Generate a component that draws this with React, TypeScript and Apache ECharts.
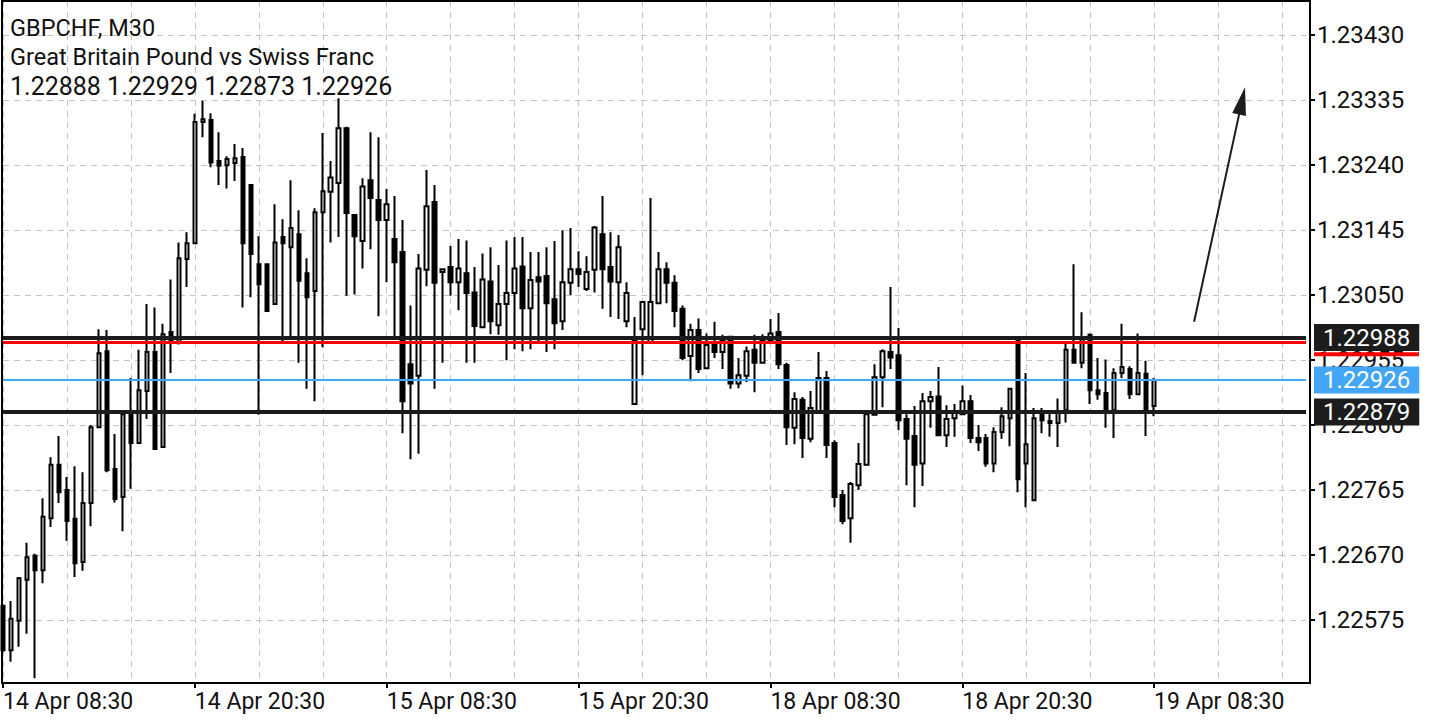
import { useRef, useEffect } from "react";
import * as echarts from "echarts";

// 30-minute bars, GBPCHF M30; Thursday/Friday session then Monday/Tuesday session
const sessionStarts = [Date.UTC(2022, 3, 14, 8, 30), Date.UTC(2022, 3, 18, 0, 0)];
const sessionBars = [79, 66];
const emptySlots = 19; // blank space right of the last bar

const opens = [
  1.22596, 1.22531, 1.22574, 1.22634, 1.22669, 1.22648, 1.22724, 1.22802, 1.22765, 1.22723,
  1.2266, 1.22746, 1.22857, 1.22968, 1.22796, 1.22755, 1.22876, 1.22834, 1.2291, 1.22967,
  1.22828, 1.22996, 1.22981, 1.23103, 1.23126, 1.23303, 1.23306, 1.23246, 1.2324, 1.23243,
  1.23252, 1.23211, 1.23095, 1.23095, 1.23037, 1.23135, 1.2312, 1.23139, 1.23082, 1.23056,
  1.23171, 1.23201, 1.23214, 1.23294, 1.23167, 1.23129, 1.23218, 1.23189, 1.2316, 1.23132,
  1.23113, 1.22949, 1.22932, 1.23087, 1.23186, 1.23084, 1.23091, 1.23069, 1.23082, 1.23054,
  1.23003, 1.2307, 1.23006, 1.23037, 1.23053, 1.23092, 1.23031, 1.23076, 1.23078, 1.23044,
  1.23012, 1.23068, 1.23088, 1.23059, 1.23087, 1.23139, 1.23091, 1.23069, 1.23012, 1.22891,
  1.23, 1.2298, 1.23038, 1.23088, 1.23068, 1.2303, 1.22961, 1.22999, 1.22943, 1.22977,
  1.22967, 1.22989, 1.22921, 1.22932, 1.2297, 1.22951, 1.22984, 1.22996, 1.22948, 1.22856,
  1.22897, 1.2284, 1.22879, 1.22929, 1.22834, 1.22758, 1.22724, 1.22772, 1.22802, 1.22875,
  1.2293, 1.22967, 1.22962, 1.22869, 1.22844, 1.22804, 1.22895, 1.22902, 1.22845, 1.2287,
  1.22876, 1.22895, 1.22841, 1.22841, 1.22804, 1.2285, 1.2287, 1.22984, 1.22804, 1.2275,
  1.22876, 1.22866, 1.22863, 1.22882, 1.2297, 1.22951, 1.22992, 1.22911, 1.22907, 1.22882,
  1.22936, 1.22942, 1.22905, 1.22935, 1.22888,
];
const closes = [
  1.22531, 1.22577, 1.22636, 1.22667, 1.22648, 1.22726, 1.22802, 1.22762, 1.2272, 1.22658,
  1.22746, 1.22857, 1.22965, 1.22794, 1.22752, 1.22876, 1.22834, 1.22911, 1.22967, 1.22825,
  1.22993, 1.2298, 1.23104, 1.23126, 1.23303, 1.23307, 1.23244, 1.23239, 1.23249, 1.2325,
  1.23126, 1.2311, 1.23066, 1.23027, 1.23127, 1.23126, 1.23148, 1.23071, 1.23047, 1.23171,
  1.23202, 1.23222, 1.23294, 1.2317, 1.23136, 1.23209, 1.23192, 1.2316, 1.23183, 1.23098,
  1.22895, 1.22921, 1.23089, 1.2318, 1.23068, 1.23088, 1.23069, 1.23089, 1.23053, 1.23005,
  1.23073, 1.23012, 1.23037, 1.23053, 1.23089, 1.23031, 1.23072, 1.2307, 1.23038, 1.23009,
  1.23069, 1.23088, 1.23081, 1.23084, 1.23149, 1.23088, 1.2307, 1.2312, 1.23053, 1.22984,
  1.2304, 1.2304, 1.23088, 1.23068, 1.23027, 1.22958, 1.22999, 1.22942, 1.22977, 1.22967,
  1.22984, 1.22921, 1.22933, 1.22968, 1.22951, 1.22984, 1.22994, 1.22949, 1.22857, 1.22898,
  1.22841, 1.22885, 1.22929, 1.22831, 1.22755, 1.2272, 1.22774, 1.22803, 1.22876, 1.2293,
  1.22968, 1.22959, 1.22867, 1.2284, 1.22802, 1.22895, 1.22901, 1.22845, 1.22869, 1.22878,
  1.22895, 1.22841, 1.22835, 1.22804, 1.2285, 1.22873, 1.22913, 1.22781, 1.22832, 1.2287,
  1.22867, 1.22863, 1.22878, 1.2297, 1.22951, 1.22986, 1.22911, 1.22905, 1.22883, 1.22936,
  1.22945, 1.22905, 1.22936, 1.22883, 1.22926,
];
const highs = [
  1.22598, 1.22603, 1.22638, 1.22688, 1.22672, 1.22753, 1.22813, 1.22844, 1.22784, 1.228,
  1.22791, 1.2286, 1.23, 1.22999, 1.22847, 1.22877, 1.22929, 1.2297, 1.23037, 1.23032,
  1.23008, 1.23073, 1.23127, 1.23142, 1.23315, 1.23334, 1.23316, 1.23288, 1.23253, 1.23271,
  1.23265, 1.23212, 1.23136, 1.23096, 1.23183, 1.23161, 1.23218, 1.23174, 1.23104, 1.23177,
  1.23287, 1.23246, 1.23338, 1.23296, 1.23168, 1.23221, 1.23288, 1.23281, 1.23205, 1.23195,
  1.2316, 1.23035, 1.2311, 1.23233, 1.23211, 1.23089, 1.23122, 1.23132, 1.2313, 1.23091,
  1.23111, 1.2312, 1.23094, 1.2313, 1.23135, 1.23135, 1.23113, 1.23113, 1.2312, 1.23129,
  1.23145, 1.23148, 1.23114, 1.23107, 1.23151, 1.23195, 1.23142, 1.23138, 1.23069, 1.23018,
  1.23041, 1.23192, 1.23113, 1.23098, 1.23079, 1.23035, 1.23008, 1.23016, 1.22994, 1.23011,
  1.22992, 1.2299, 1.22958, 1.22975, 1.22992, 1.22993, 1.23015, 1.23024, 1.22951, 1.22908,
  1.22901, 1.2291, 1.22967, 1.22939, 1.22838, 1.22765, 1.22777, 1.22834, 1.22877, 1.22949,
  1.22971, 1.23062, 1.23002, 1.22876, 1.22888, 1.22907, 1.2291, 1.22945, 1.22889, 1.22891,
  1.22918, 1.22904, 1.2286, 1.22847, 1.22857, 1.22886, 1.22914, 1.22985, 1.22936, 1.22885,
  1.22885, 1.22878, 1.22899, 1.22983, 1.23095, 1.23025, 1.22994, 1.22958, 1.22956, 1.22943,
  1.23008, 1.22946, 1.22994, 1.22954, 1.22929,
];
const lows = [
  1.22528, 1.22514, 1.22536, 1.22555, 1.2249, 1.22629, 1.22711, 1.22746, 1.22691, 1.22638,
  1.22647, 1.22712, 1.22856, 1.22791, 1.22747, 1.22705, 1.22767, 1.22833, 1.22869, 1.22824,
  1.22827, 1.22936, 1.22978, 1.23062, 1.23125, 1.23281, 1.23237, 1.23211, 1.23206, 1.23217,
  1.23032, 1.23047, 1.22875, 1.23026, 1.23036, 1.2298, 1.22989, 1.22951, 1.22913, 1.22895,
  1.22974, 1.23127, 1.23135, 1.23049, 1.23051, 1.23089, 1.23117, 1.23019, 1.23069, 1.22989,
  1.22848, 1.2281, 1.22818, 1.23063, 1.22913, 1.22951, 1.23049, 1.23028, 1.22951, 1.22951,
  1.23002, 1.22993, 1.22992, 1.22955, 1.22971, 1.22968, 1.22971, 1.22983, 1.22967, 1.22971,
  1.22999, 1.2305, 1.23062, 1.23056, 1.23054, 1.2303, 1.23018, 1.23015, 1.23003, 1.2289,
  1.22933, 1.22979, 1.23037, 1.23038, 1.23003, 1.22955, 1.22924, 1.22936, 1.22942, 1.22958,
  1.22942, 1.22913, 1.22914, 1.22923, 1.22908, 1.2295, 1.2298, 1.22942, 1.22831, 1.22832,
  1.22812, 1.22835, 1.22878, 1.22812, 1.2274, 1.22715, 1.22688, 1.22765, 1.22801, 1.22874,
  1.22886, 1.22942, 1.22853, 1.22772, 1.2274, 1.22771, 1.22856, 1.22844, 1.22828, 1.22843,
  1.22875, 1.22834, 1.22822, 1.22799, 1.22791, 1.2284, 1.22829, 1.22762, 1.2274, 1.22749,
  1.22848, 1.22843, 1.22828, 1.22864, 1.2295, 1.22943, 1.22891, 1.22897, 1.22856, 1.22841,
  1.22929, 1.22898, 1.22904, 1.22844, 1.22873,
];

const yTicks = [1.22575, 1.2267, 1.22765, 1.2286, 1.22955, 1.2305, 1.23145, 1.2324, 1.23335, 1.2343];

// horizontal levels drawn on the chart
const levelHigh = 1.22988;
const levelLow = 1.22879;
const askPrice = 1.22981;
const bidPrice = 1.22926;

// trend arrow (bar index, price)
const arrowFrom = [149, 1.23011];
const arrowTo = [155, 1.23334];

const headerName = "GBPCHF, M30";
const headerDesc = "Great Britain Pound vs Swiss Franc";
const headerOhlc = "1.22888 1.22929 1.22873 1.22926";

const pad2 = (n: number) => String(n).padStart(2, "0");
const fmtTime = (t: number) => {
  const d = new Date(t);
  return `${d.getUTCDate()} Apr ${pad2(d.getUTCHours())}:${pad2(d.getUTCMinutes())}`;
};

const categories: string[] = [];
sessionStarts.forEach((start, s) => {
  for (let i = 0; i < sessionBars[s]; i++) categories.push(fmtTime(start + i * 30 * 60000));
});
for (let i = 0; i < emptySlots; i++) categories.push("");

const candles = opens.map((o, i) => [o, closes[i], lows[i], highs[i]]);

const FONT = "Roboto";

const boxLabel = (bg: string) => ({
  show: true,
  position: "end",
  distance: 8,
  formatter: (p: any) => Number(p.value).toFixed(5),
  color: "#fff",
  backgroundColor: bg,
  fontSize: 24,
  lineHeight: 23,
  fontFamily: FONT,
  padding: [3, 9, 1, 9],
});

const App = () => {
  const chartRef = useRef<HTMLDivElement>(null);

  useEffect(() => {
    const myChart = echarts.init(chartRef.current, null, { renderer: "svg" });

    const option = {
      animation: false,
      backgroundColor: "#fff",
      textStyle: { fontFamily: FONT },
      title: {
        text: `{a|${headerName}}\n{a|${headerDesc}}\n{b|${headerOhlc}}`,
        left: 10,
        top: 14,
        padding: 0,
        textStyle: {
          fontWeight: "normal",
          rich: {
            a: { fontSize: 23.5, lineHeight: 28.5, color: "#111", fontWeight: "normal", fontFamily: FONT },
            b: { fontSize: 25, lineHeight: 30, color: "#111", fontWeight: "normal", fontFamily: FONT },
          },
        },
      },
      grid: { left: 2, top: 1, width: 1304, height: 682 },
      xAxis: {
        type: "category",
        data: categories,
        boundaryGap: false,
        axisLine: { show: false },
        axisTick: {
          show: true,
          interval: (i: number) => i % 24 === 0 && i <= 144,
          length: 5,
          lineStyle: { color: "#000", width: 2 },
        },
        axisLabel: {
          interval: (i: number) => i % 24 === 0 && i <= 144,
          align: "left",
          margin: 7,
          fontSize: 23,
          color: "#111",
          fontFamily: FONT,
        },
        splitLine: {
          show: true,
          interval: (i: number) => i % 8 === 0,
          lineStyle: { color: "#c4c4c4", type: [6, 5], width: 1 },
        },
      },
      yAxis: {
        type: "value",
        position: "right",
        offset: 4,
        min: 1.22483,
        max: 1.2348,
        axisLine: { show: false },
        axisTick: {
          show: true,
          customValues: yTicks,
          length: 5,
          lineStyle: { color: "#000", width: 2 },
        },
        axisLabel: {
          customValues: yTicks,
          margin: 7,
          fontSize: 24,
          color: "#111",
          fontFamily: FONT,
          formatter: (v: number) => v.toFixed(5),
        },
        splitLine: {
          show: true,
          lineStyle: { color: "#c4c4c4", type: [6, 5], width: 1 },
        },
      },
      graphic: [
        {
          type: "rect",
          z: 100,
          silent: true,
          shape: { x: 2, y: 1, width: 1308, height: 682 },
          style: { fill: "none", stroke: "#000", lineWidth: 2 },
        },
      ],
      series: [
        {
          type: "candlestick",
          data: candles,
          barWidth: 4,
          clip: false,
          z: 2,
          itemStyle: {
            color: "#ffffff",
            color0: "#000000",
            borderColor: "#000000",
            borderColor0: "#000000",
            borderWidth: 2,
          },
        },
        {
          type: "line",
          data: [],
          z: 3,
          markLine: {
            silent: true,
            precision: 5,
            symbol: ["none", "none"],
            animation: false,
            lineStyle: { color: "#1c1c1c", width: 2, type: "solid" },
            data: [
              {
                yAxis: askPrice,
                lineStyle: { color: "#ff0000", width: 3, type: "solid" },
                label: {
                  show: true,
                  position: "end",
                  distance: 8,
                  formatter: () => "{g| }\n{b| }",
                  rich: {
                    g: { height: 24, lineHeight: 24, fontSize: 4 },
                    b: { height: 4, lineHeight: 4, width: 105, fontSize: 4, backgroundColor: "#ff0000" },
                  },
                },
              },
              {
                yAxis: bidPrice,
                lineStyle: { color: "#42a5f5", width: 2, type: "solid" },
                label: boxLabel("#42a5f5"),
              },
              {
                yAxis: levelHigh,
                lineStyle: { color: "#1c1c1c", width: 4, type: "solid" },
                label: boxLabel("#1c1c1c"),
              },
              {
                yAxis: levelLow,
                lineStyle: { color: "#1c1c1c", width: 4, type: "solid" },
                label: boxLabel("#1c1c1c"),
              },
              [
                {
                  coord: arrowFrom,
                  symbol: "none",
                  label: { show: false },
                  lineStyle: { color: "#1c1c1c", width: 2, type: "solid" },
                },
                { coord: arrowTo, symbol: "triangle", symbolSize: [14, 28] },
              ],
            ],
          },
        },
      ],
    };

    myChart.setOption(option as any);

    return () => {
      myChart.dispose();
    };
  }, []);

  return (
    <div
      ref={chartRef}
      style={{ position: "absolute", left: 0, top: 0, width: "1440px", height: "720px" }}
    ></div>
  );
};

export default App;
